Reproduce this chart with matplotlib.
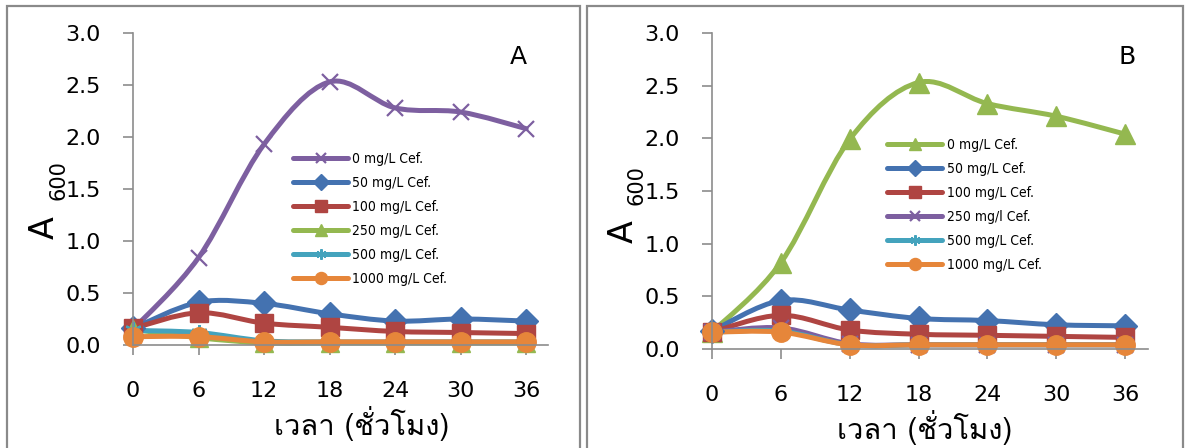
import numpy as np
import matplotlib
matplotlib.use('Agg')
import matplotlib.pyplot as plt
import matplotlib.font_manager as fm
from matplotlib.ft2font import FT2Font
from matplotlib.path import Path
from matplotlib.patches import PathPatch, Rectangle
from matplotlib.lines import Line2D

hours = [0, 6, 12, 18, 24, 30, 36]
labels_a = ['0 mg/L Cef.', '50 mg/L Cef.', '100 mg/L Cef.', '250 mg/L Cef.',
            '500 mg/L Cef.', '1000 mg/L Cef.']
labels_b = ['0 mg/L Cef.', '50 mg/L Cef.', '100 mg/L Cef.', '250 mg/l Cef.',
            '500 mg/L Cef.', '1000 mg/L Cef.']

# panel A
a_0 = [0.15, 0.84, 1.93, 2.53, 2.28, 2.24, 2.08]
a_50 = [0.16, 0.41, 0.40, 0.30, 0.23, 0.25, 0.23]
a_100 = [0.16, 0.31, 0.21, 0.17, 0.13, 0.12, 0.11]
a_250 = [0.15, 0.07, 0.02, 0.02, 0.02, 0.02, 0.02]
a_500 = [0.14, 0.12, 0.04, 0.03, 0.03, 0.03, 0.03]
a_1000 = [0.08, 0.08, 0.03, 0.03, 0.03, 0.03, 0.03]

# panel B
b_0 = [0.16, 0.82, 1.99, 2.53, 2.33, 2.21, 2.04]
b_50 = [0.17, 0.46, 0.37, 0.29, 0.27, 0.23, 0.22]
b_100 = [0.16, 0.32, 0.18, 0.14, 0.13, 0.12, 0.11]
b_250 = [0.16, 0.20, 0.05, 0.04, 0.04, 0.04, 0.04]
b_500 = [0.16, 0.17, 0.04, 0.04, 0.04, 0.04, 0.04]
b_1000 = [0.16, 0.16, 0.04, 0.04, 0.04, 0.04, 0.04]

purple = '#7D5FA0'
blue = '#4472B0'
red = '#AF4542'
green = '#94B850'
teal = '#44A3BD'
orange = '#E6863A'
asterisk = (6, 2, 0)

# find a font with Thai glyphs
thai_font = None
for f in fm.fontManager.ttflist:
    try:
        if 0x0E40 in FT2Font(f.fname).get_charmap():
            thai_font = f.name
            break
    except Exception:
        pass
fam = ['DejaVu Sans'] if thai_font is None else [thai_font, 'DejaVu Sans']

plt.rcParams['font.family'] = ['DejaVu Sans']

W, H = 1186, 448
fig = plt.figure(figsize=(W / 100, H / 100), dpi=100)


def smooth_line(ax, x, y, color):
    # Excel-like smoothed line: Catmull-Rom as cubic Bezier
    pts = np.column_stack([x, y]).astype(float)
    verts = [pts[0]]
    codes = [Path.MOVETO]
    n = len(pts)
    for i in range(n - 1):
        p0 = pts[max(i - 1, 0)]
        p1 = pts[i]
        p2 = pts[i + 1]
        p3 = pts[min(i + 2, n - 1)]
        verts += [p1 + (p2 - p0) / 6, p2 - (p3 - p1) / 6, p2]
        codes += [Path.CURVE4] * 3
    patch = PathPatch(Path(verts, codes), fill=False, edgecolor=color, lw=3.6,
                      capstyle='round', joinstyle='round', clip_on=False)
    ax.add_patch(patch)


def panel(rect, series, letter, letter_xy, labels, leg_xy):
    ax = fig.add_axes(rect)
    handles = []
    for vals, color, marker, ms in series:
        smooth_line(ax, hours, vals, color)
        mew = 1.6 if marker in ('x', asterisk) else 1
        ax.plot(hours, vals, ls='none', marker=marker, ms=ms, color=color,
                mec=color, mew=mew, clip_on=False)
        handles.append(Line2D([], [], color=color, lw=3.6, marker=marker,
                              ms=ms * 0.62, mew=mew, solid_capstyle='round'))
    ax.set_xlim(0, 38)
    ax.set_ylim(0, 3)
    ax.set_xticks(hours)
    ax.set_yticks(np.arange(0, 3.01, 0.5))
    ax.set_yticklabels(['%.1f' % v for v in np.arange(0, 3.01, 0.5)])
    for s in ('top', 'right'):
        ax.spines[s].set_visible(False)
    for s in ('left', 'bottom'):
        ax.spines[s].set_color('#8C8C8C')
        ax.spines[s].set_linewidth(1.2)
    ax.tick_params(axis='both', direction='out', length=7, width=1.2,
                   color='#8C8C8C', labelsize=16)
    ax.tick_params(axis='y', pad=16)
    ax.tick_params(axis='x', pad=19)
    ax.patch.set_visible(False)
    ax.legend(handles, labels, loc='upper left', bbox_to_anchor=leg_xy,
              frameon=False, handlelength=4.0, handletextpad=0.3,
              labelspacing=0.72, borderpad=0, borderaxespad=0,
              prop=dict(family='DejaVu Sans', stretch='condensed', size=10))
    ax.text(letter_xy[0], letter_xy[1], letter, transform=ax.transAxes,
            fontsize=18, ha='center', va='center')
    return ax


# grey panel frames
for x0, x1 in ((7, 580), (587, 1183)):
    fig.patches.append(Rectangle((x0 / W, -0.05), (x1 - x0) / W, (H - 6) / H + 0.05,
                                 transform=fig.transFigure, fill=False,
                                 edgecolor='#8A8A8A', lw=1.6))

series_a = [(a_0, purple, 'x', 11), (a_50, blue, 'D', 12.5), (a_100, red, 's', 13),
            (a_250, green, '^', 13), (a_500, teal, asterisk, 12),
            (a_1000, orange, 'o', 14)]
series_b = [(b_0, green, '^', 15), (b_50, blue, 'D', 12.5), (b_100, red, 's', 13),
            (b_250, purple, 'x', 11), (b_500, teal, asterisk, 12),
            (b_1000, orange, 'o', 14)]

panel([133 / W, (H - 345) / H, (548 - 133) / W, 312 / H], series_a, 'A',
      (0.928, 0.923), labels_a, (0.385, 0.62))
panel([712 / W, (H - 349) / H, (1148 - 712) / W, 316 / H], series_b, 'B',
      (0.952, 0.924), labels_b, (0.401, 0.668))

# axis titles: A with subscript 600, rotated
for ax_x, ax_y, sx, sy, xx, xy in ((44, 228, 58, 180, 362, 423),
                                   (623, 232, 637, 185, 925, 427)):
    fig.text(ax_x / W, 1 - ax_y / H, 'A', rotation=90, fontsize=24,
             ha='center', va='center')
    fig.text(sx / W, 1 - sy / H, '600', rotation=90, fontsize=15,
             ha='center', va='center')
    fig.text(xx / W, 1 - xy / H, 'เวลา (ชั่วโมง)', family=fam, fontsize=21,
             ha='center', va='center')

fig.savefig('out.png', dpi=100)
